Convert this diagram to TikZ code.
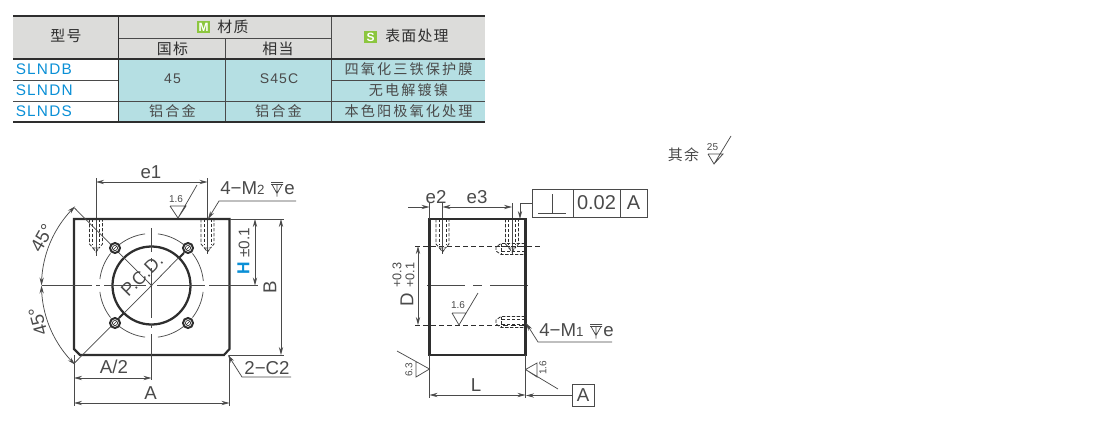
\documentclass[tikz,border=0pt]{standalone}
\usepackage{fontspec}
\usetikzlibrary{arrows.meta}
\setmainfont{Liberation Sans}
\newfontfamily\cjkhead[LetterSpace=8]{Noto Sans CJK SC}
\newfontfamily\cjkbody[LetterSpace=15]{Noto Sans CJK SC}
\newfontfamily\latsp[LetterSpace=8]{Liberation Sans}
\definecolor{ink}{HTML}{2E2E2E}
\definecolor{thinink}{HTML}{4A4A4A}
\definecolor{headfill}{HTML}{DCDCDA}
\definecolor{bodyfill}{HTML}{B5DFE3}
\definecolor{modelblue}{HTML}{0A8FD6}
\definecolor{tagf}{HTML}{8CC63F}
\tikzset{
  thickl/.style={line width=1.6pt,draw=ink},
  tabl/.style={line width=.6pt,draw=thinink},
  thin/.style={line width=.55pt,draw=thinink},
  dim/.style={line width=.55pt,draw=thinink,{Stealth[length=6pt,width=3.2pt]}-{Stealth[length=6pt,width=3.2pt]}},
  dimr/.style={line width=.55pt,draw=thinink,-{Stealth[length=6pt,width=3.2pt]}},
  lead/.style={line width=.55pt,draw=thinink,{Stealth[length=6pt,width=3.2pt]}-},
  hid/.style={line width=.6pt,draw=ink,dash pattern=on 2.5pt off 1.2pt},
  ctr/.style={line width=.55pt,draw=thinink,dash pattern=on 28.5pt off 6pt on 6.75pt off 6pt},
  head/.style={font=\fontsize{11.2}{13}\cjkhead,text=ink,inner sep=0pt},
  body/.style={font=\fontsize{10.6}{13}\cjkbody,text=thinink,inner sep=0pt},
  model/.style={font=\fontsize{11.5}{13}\latsp,text=modelblue,inner sep=0pt,anchor=west},
  val/.style={font=\fontsize{10.5}{13}\latsp,text=thinink,inner sep=0pt},
  lab/.style={font=\fontsize{14}{16}\selectfont,text=thinink,inner sep=0pt},
  tiny/.style={font=\fontsize{7.5}{9}\selectfont,text=thinink,inner sep=0pt},
  frame/.style={draw=thinink,line width=.65pt,minimum height=21pt,inner sep=0pt},
  tagbox/.style={fill=tagf,text=white,font=\fontsize{9}{10}\selectfont\bfseries,inner sep=0pt,minimum width=10pt,minimum height=9.5pt},
  vhole/.pic={
    \draw[hid] (-6.5,0) -- (-6.5,25) -- (-3,29) -- (3,29) -- (6.5,25) -- (6.5,0);
    \draw[hid] (-3.5,0) -- (-3.5,26) (3.5,0) -- (3.5,26);
    \draw[hid] (-3,29) -- (0,33) -- (3,29);
  },
  hhole/.pic={
    \draw[hid] (0,-5.5) -- (-24,-5.5) -- (-29,-2) -- (-29,2) -- (-24,5.5) -- (0,5.5);
    \draw[hid] (0,-2.5) -- (-24,-2.5) (0,2.5) -- (-24,2.5) (-24,-5.5) -- (-24,5.5);
  },
  bolt/.pic={
    \draw[line width=1.5pt,draw=ink,fill=white] (0,0) circle[radius=5];
    \draw[line width=.5pt,draw=ink] (0,0) circle[radius=2.6];
    \draw[line width=.5pt,draw=ink] (-2,2) -- (2,-2);
  },
}
\newcommand{\depthsym}[2]{% x y of top centre
  \draw[line width=.55pt,draw=thinink] (#1-6,#2) -- (#1+6,#2) (#1-6,#2+2) -- (#1+6,#2+2) (#1-5,#2+2) -- (#1,#2+11) -- (#1+5,#2+2) (#1,#2+2) -- (#1,#2+14);
}
\begin{document}
\begin{tikzpicture}[x=.75pt,y=-.75pt]
\useasboundingbox (0,0) rectangle (1100,436);
% ---------- table
\fill[headfill] (13,16) rectangle (485,59);
\fill[bodyfill] (118.5,59) rectangle (485,122);
\draw[tabl] (118.5,38) -- (331,38) (225,38) -- (225,122) (331,16) -- (331,122);
\draw[tabl] (13,80) -- (118.5,80) (331,80) -- (485,80) (13,101) -- (485,101);
\draw[line width=1.1pt,draw=ink] (118.5,16) -- (118.5,122);
\draw[line width=1.5pt,draw=ink] (13,16) -- (485,16) (13,59) -- (485,59) (13,122) -- (485,122);
\node[head] (t1) at (66,35.5) {型号};
\node[tagbox] (tagm) at (203.5,27) {M};
\node[head] (t2) at (233,26.5) {材质};
\node[head] (t3) at (172.5,48.5) {国标};
\node[head] (t4) at (278,48.5) {相当};
\node[tagbox] (tags) at (370.5,37) {S};
\node[head] (t5) at (417,36) {表面处理};
\node[model] (m1) at (15.5,69.5) {SLNDB};
\node[model] (m2) at (15.5,90) {SLNDN};
\node[model] (m3) at (15.5,111) {SLNDS};
\node[val] (v1) at (172.5,78.5) {45};
\node[val] (v2) at (279,78.5) {S45C};
\node[body] (b1) at (408.5,69.5) {四氧化三铁保护膜};
\node[body] (b2) at (408.5,90) {无电解镀镍};
\node[body] (b3) at (172.5,111) {铝合金};
\node[body] (b4) at (278.5,111) {铝合金};
\node[body] (b5) at (408.5,111) {本色阳极氧化处理};
% ---------- general roughness note
\node[head,text=thinink] (rest) at (683.5,155) {其余};
\node[tiny] (r25) at (712.5,147.5) {25};
\draw[thin] (708,154) -- (723,154) -- (714,164) -- (708,154) (714,164) -- (731,136);
% ---------- left view
\draw[thin] (96,178) -- (96,256) (207.5,178) -- (207.5,254);
\path (96,219) pic {vhole};
\path (207.5,219) pic {vhole};
% PCD circles
\foreach \a/\b in {5/38,52/83,97/128,142/173,187/218,232/263,277/308,322/353}
  \draw[line width=.55pt,draw=thinink,dash pattern=on 24pt off 2pt on 3pt off 2pt] plot[domain=\a:\b,samples=16] ({151.5+52*cos(\x)},{285.5-52*sin(\x)});
\draw[line width=1.7pt,draw=ink] (151.5,285.5) circle[radius=39];
\draw[thickl] (74,219) -- (229.5,219) -- (229.5,349) -- (224,355) -- (80,355) -- (74,349) -- cycle;
% centre lines
\draw[thin] (42,285.5) -- (92,285.5) (96,285.5) -- (100,285.5) (104,285.5) -- (146,285.5) (157,285.5) -- (205,285.5) (209,285.5) -- (258,285.5);
\draw[thin] (151.5,228) -- (151.5,252) (151.5,258) -- (151.5,262) (151.5,268) -- (151.5,318) (151.5,324) -- (151.5,328) (151.5,334) -- (151.5,380);
% diagonals
\draw[thin] (74.5,208) -- (151.5,285.5) -- (188,248);
\draw[thin] (151.5,285.5) -- (74.5,363);
\draw[line width=1.4pt,draw=ink] (124,313) -- (119,318);
\draw[line width=1.4pt,draw=ink] (179,258) -- (184,253);
\path (115,248) pic {bolt};
\path (188,248) pic {bolt};
\path (115,323) pic {bolt};
\path (188,323) pic {bolt};
\node[lab,rotate=45,font=\fontsize{13.5}{15}\selectfont] (pcd) at (142,275.5) {P.C.D.};
% 45 deg arc
\draw[dim] plot[domain=134:180,samples=24] ({151.5+110*cos(\x)},{285.5-110*sin(\x)});
\draw[dim] plot[domain=180:226,samples=24] ({151.5+110*cos(\x)},{285.5-110*sin(\x)});
\node[lab,rotate=60] (a1) at (42,238) {45°};
\node[lab,rotate=105] (a2) at (38,322) {45°};
% e1
\draw[dim] (96,182) -- (207.5,182);
\node[lab] (e1) at (151,172) {e1};
% 1.6 mark
\draw[thin] (170,206) -- (186,206) -- (178,218) -- (170,206) (178,218) -- (197,185);
\node[tiny] (r1) at (176,199) {1.6};
% 4-M2
\coordinate (tipa) at (208,219);
\coordinate (knee) at (219,201);
\draw[lead] (tipa) -- (knee) -- (296,201);
\node[lab,anchor=base west] (m2t) at (220,194) {4−M\fontsize{10}{12}\selectfont 2};
\depthsym{277}{182.5}
\node[lab,anchor=base west] (m2e) at (284,194) {e};
% H, B
\draw[thin] (230,219) -- (284,219) (230,355) -- (284,355);
\draw[dim] (255,219) -- (255,285.5);
\draw[dim] (281,219) -- (281,355);
\node[lab,rotate=90,text=modelblue,font=\fontsize{13}{15}\bfseries\selectfont] (ht) at (243.5,268.5) {H};
\node[lab,rotate=90,font=\fontsize{11.5}{13}\selectfont] (hv) at (244,243) {±0.1};
\node[lab,rotate=90] (bt) at (270,287) {B};
% A/2, A
\draw[thin] (74,355) -- (74,406) (229.5,355) -- (229.5,406);
\draw[dim] (74,378) -- (151.5,378);
\draw[dim] (74,403) -- (229.5,403);
\node[lab] (a2t) at (114,367) {A/2};
\node[lab] (at) at (150.5,393) {A};
% 2-C2
\coordinate (tipc) at (228,355);
\coordinate (kneec) at (242,377);
\draw[lead] (tipc) -- (kneec) -- (291,377);
\node[lab] (c2) at (267,368) {2−C2};
% ---------- right view
\draw[hid,dash pattern=on 4pt off 2pt] (415,246) -- (540,246);
\draw[hid,dash pattern=on 4pt off 2pt] (415,325) -- (527,325);
\draw[ctr] (427,285) -- (535,285);
\draw[thin] (442.5,203) -- (442.5,254);
\draw[thin] (512,203) -- (512,254);
\path (442.5,219) pic {vhole};
\path (512,219) pic {vhole};
\path (525,249) pic {hhole};
\path (525,322) pic {hhole};
\draw[thickl] (429.5,219) rectangle (525.5,355);
% e2 e3
\draw[thin] (429.5,203) -- (429.5,219);
\draw[dimr] (408,207) -- (429.5,207);
\draw[dimr] (466,207) -- (442.5,207);
\draw[dimr] (466,207) -- (512,207);
\node[lab] (e2) at (436,197) {e2};
\node[lab] (e3) at (477,197) {e3};
% feature control frame
\node[frame,minimum width=30.75pt] (fa) at (552.5,203) {};
\node[frame,lab,minimum width=35.25pt,font=\fontsize{15}{17}\selectfont] (fb) at (596.5,203) {0.02};
\node[frame,lab,minimum width=20.25pt,font=\fontsize{15}{17}\selectfont] (fc) at (633.5,203) {A};
\draw[line width=.6pt,draw=thinink] (538,213.5) -- (566,213.5) (552,194) -- (552,213.5);
\coordinate (ftip) at (520,219);
\coordinate (fk) at (520,203);
\draw[lead] (ftip) -- (fk) -- (fa.west);
% D
\draw[dim] (418,246) -- (418,325);
\node[lab,rotate=90] (dt) at (407,300) {D};
\node[lab,rotate=90,font=\fontsize{9.5}{11}\selectfont] (dp) at (397,275) {+0.3};
\node[lab,rotate=90,font=\fontsize{9.5}{11}\selectfont] (dm) at (410,275) {+0.1};
% 1.6 inner
\draw[thin] (452,313) -- (466,313) -- (459,325) -- (452,313) (459,325) -- (478,293);
\node[tiny] (r2) at (458,305) {1.6};
% 4-M1
\coordinate (tipm) at (526,323);
\coordinate (kneem) at (538,342);
\draw[lead] (tipm) -- (kneem) -- (612,342);
\node[lab,anchor=base west] (m1t) at (539,336) {4−M\fontsize{10}{12}\selectfont 1};
\depthsym{596}{324.5}
\node[lab,anchor=base west] (m1e) at (603,336) {e};
% L
\draw[thin] (429.5,355) -- (429.5,398) (525.5,355) -- (525.5,398);
\draw[dim] (429.5,395) -- (525.5,395);
\node[lab] (lt) at (476,385) {L};
% datum
\node[frame,lab,minimum width=16.5pt,minimum height=17pt] (dat) at (583,395.5) {A};
\coordinate (dtip) at (526,395.5);
\draw[lead] (dtip) -- (dat.west);
% roughness on bottom
\draw[thin] (397,351) -- (429.5,369) -- (416,377) -- (416,362);
\node[tiny,rotate=90] (r3) at (409,370) {6.3};
\draw[thin] (525.5,369.5) -- (537,363) -- (537,377) -- (525.5,369.5) (525.5,369.5) -- (558,389);
\node[tiny,rotate=90] (r4) at (543,368) {1.6};
\end{tikzpicture}
\end{document}
